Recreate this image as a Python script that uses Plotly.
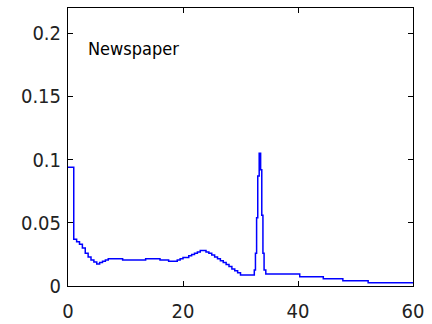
import plotly.graph_objects as go

x_vals = [0, 1.0, 1.5, 2.0, 2.5, 3.0, 3.5, 4.0, 4.5, 5.0, 5.5, 6.0, 6.5, 7.0, 9.5, 13.5,
          16.0, 17.5, 19.0, 19.5, 20.0, 21.0, 21.5, 22.0, 22.5, 23.0, 24.0, 24.5, 25.0,
          25.5, 26.0, 26.5, 27.0, 27.5, 28.0, 28.5, 29.0, 29.5, 30.0, 32.4, 32.6, 32.8,
          33.0, 33.25, 33.5, 33.7, 33.9, 34.1, 34.4, 40.3, 44.4, 47.8, 52.2, 60]
y_vals = [0.094, 0.037, 0.035, 0.033, 0.030, 0.026, 0.023, 0.0205, 0.019, 0.0175, 0.0185,
          0.0195, 0.0205, 0.0215, 0.0205, 0.0215, 0.0205, 0.0195, 0.0205, 0.0215, 0.0225,
          0.024, 0.025, 0.026, 0.027, 0.028, 0.027, 0.026, 0.0245, 0.023, 0.0215, 0.020,
          0.0185, 0.017, 0.0155, 0.0135, 0.012, 0.0105, 0.0087, 0.0126, 0.026, 0.054,
          0.087, 0.105, 0.092, 0.056, 0.026, 0.0126, 0.0095, 0.0074, 0.0058, 0.0042,
          0.0026, 0.0026]
x_ticks = [0, 20, 40, 60]
y_ticks = [0, 0.05, 0.1, 0.15, 0.2]
y_tick_labels = ["0", "0.05", "0.1", "0.15", "0.2"]
label = "Newspaper"

font_family = "DejaVu Sans Condensed, Liberation Sans Narrow, Liberation Sans, Arial, sans-serif"

fig = go.Figure()
fig.add_trace(go.Scatter(x=x_vals, y=y_vals, mode="lines", line_shape="hv",
                         line=dict(color="#0000FF", width=1.5), showlegend=False,
                         hoverinfo="skip"))

axis_common = dict(showline=True, linecolor="black", linewidth=1, mirror="ticks",
                   ticks="inside", ticklen=5, tickcolor="black", showgrid=False,
                   zeroline=False, automargin=False,
                   tickfont=dict(family=font_family, size=20, color="#222"))
fig.update_xaxes(range=[0, 60], tickvals=x_ticks, ticklabelstandoff=7, **axis_common)
fig.update_yaxes(range=[0, 0.22], tickvals=y_ticks, ticktext=y_tick_labels,
                 ticklabelstandoff=2, **axis_common)

fig.add_annotation(x=0.052, y=0.855, xref="paper", yref="paper", text=label, showarrow=False,
                   xanchor="left", yanchor="middle",
                   font=dict(family=font_family, size=18, color="black"))

fig.update_layout(width=432, height=324, margin=dict(l=68, r=19, t=8, b=38),
                  plot_bgcolor="white", paper_bgcolor="white")
fig.write_html("out.html", config={"displayModeBar": False},
               post_script="document.body.style.margin='0';document.body.style.overflow='hidden';")
